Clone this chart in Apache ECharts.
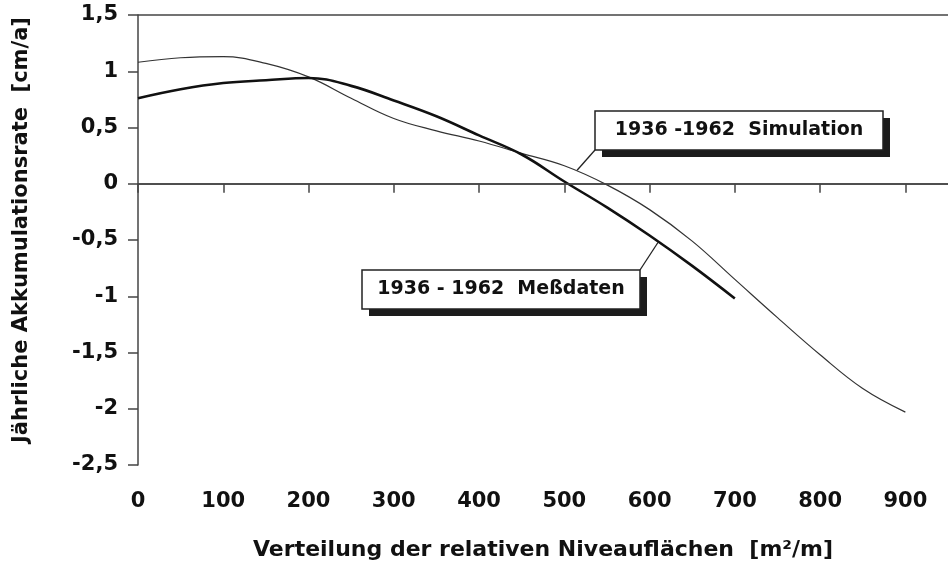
<!DOCTYPE html>
<html>
<head>
<meta charset="utf-8">
<script src="https://cdn.jsdelivr.net/npm/echarts@6/dist/echarts.min.js"></script>
<style>
  * { margin: 0; padding: 0; }
  body { background: #fff; }
</style>
</head>
<body>
<div id="main" style="width: 948px; height: 568px;"></div>
<script>
  // Niveauflächen (x) in m2/m
  var simX = [0, 50, 100, 150, 200, 250, 300, 350, 400, 450, 500, 550, 600, 650, 700, 750, 800, 850, 900]
  var simY = [1.08, 1.12, 1.13, 1.07, 0.95, 0.76, 0.58, 0.47, 0.38, 0.27, 0.16, -0.01, -0.23, -0.51, -0.85, -1.19, -1.52, -1.82, -2.03]
  var messX = [0, 50, 100, 150, 200, 250, 300, 350, 400, 450, 500, 550, 600, 650, 700]
  var messY = [0.76, 0.84, 0.895, 0.92, 0.94, 0.87, 0.74, 0.6, 0.43, 0.26, 0.02, -0.21, -0.46, -0.73, -1.02]
  var simLabel = '1936 -1962  Simulation'
  var messLabel = '1936 - 1962  Meßdaten'

  function pairs (xs, ys) {
    return xs.map(function (x, i) { return [x, ys[i]] })
  }

  var myChart = echarts.init(document.getElementById('main'))
  myChart.setOption({
    animation: false,
    grid: { left: 138, top: 15, width: 813, height: 450 },
    xAxis: {
      type: 'value',
      min: 0,
      max: 950,
      interval: 100,
      name: 'Verteilung der relativen Niveauflächen  [m²/m]',
      nameLocation: 'middle',
      nameGap: 74,
      nameTextStyle: { fontFamily: 'DejaVu Sans', fontWeight: 'bold', fontSize: 22, color: '#111' },
      axisLine: { lineStyle: { color: '#444', width: 1.5 } },
      axisTick: { length: 9, lineStyle: { color: '#444', width: 1.5 } },
      axisLabel: { margin: 26, showMaxLabel: false, fontFamily: 'DejaVu Sans', fontWeight: 'bold', fontSize: 21, color: '#111' },
      splitLine: { show: false }
    },
    yAxis: {
      type: 'value',
      min: -2.5,
      max: 1.5,
      interval: 0.5,
      name: 'Jährliche Akkumulationsrate  [cm/a]',
      nameLocation: 'middle',
      nameGap: 106,
      nameTextStyle: { fontFamily: 'DejaVu Sans', fontWeight: 'bold', fontSize: 21, color: '#111', padding: [0, 0, 0, 20] },
      axisLine: { show: true, lineStyle: { color: '#444', width: 1.5 } },
      axisTick: { show: true, length: 10, lineStyle: { color: '#444', width: 1.5 } },
      axisLabel: {
        margin: 20,
        fontFamily: 'DejaVu Sans', fontWeight: 'bold', fontSize: 21, color: '#111',
        formatter: function (v) { return String(v).replace('.', ',') }
      },
      splitLine: { show: false }
    },
    series: [
      {
        name: 'Simulation',
        type: 'line',
        smooth: 0.4,
        symbol: 'none',
        data: pairs(simX, simY),
        lineStyle: { color: '#333', width: 1.2 },
        markLine: {
          silent: true,
          symbol: 'none',
          label: { show: false },
          lineStyle: { color: '#444', width: 1.5, type: 'solid' },
          data: [{ yAxis: 0 }, { yAxis: 1.5 }]
        }
      },
      {
        name: 'Meßdaten',
        type: 'line',
        smooth: 0.4,
        symbol: 'none',
        data: pairs(messX, messY),
        lineStyle: { color: '#111', width: 2.6 }
      }
    ]
  })

  // Beschriftungskästen mit Schatten
  function box (x, y, w, h, text) {
    return [
      { type: 'rect', shape: { x: x + 7, y: y + 7, width: w, height: h }, style: { fill: '#1c1c1c' }, z: 10 },
      { type: 'rect', shape: { x: x, y: y, width: w, height: h }, style: { fill: '#fff', stroke: '#222', lineWidth: 1.5 }, z: 11 },
      { type: 'text', x: x + w / 2, y: y + h / 2, z: 12,
        style: { text: text, fill: '#111', font: 'bold 19px "DejaVu Sans"', align: 'center', verticalAlign: 'middle' } }
    ]
  }

  var pSim = myChart.convertToPixel({ gridIndex: 0 }, [515, 0.12])
  var pMess = myChart.convertToPixel({ gridIndex: 0 }, [610, -0.52])

  var elements = []
    .concat(box(595, 111, 288, 39, simLabel))
    .concat(box(362, 270, 278, 39, messLabel))
  elements.push({ type: 'line', z: 9, shape: { x1: 595, y1: 150, x2: pSim[0], y2: pSim[1] }, style: { stroke: '#222', lineWidth: 1.3 } })
  elements.push({ type: 'line', z: 9, shape: { x1: 640, y1: 270, x2: pMess[0], y2: pMess[1] }, style: { stroke: '#222', lineWidth: 1.3 } })

  myChart.setOption({ graphic: { elements: elements } })
</script>
</body>
</html>
